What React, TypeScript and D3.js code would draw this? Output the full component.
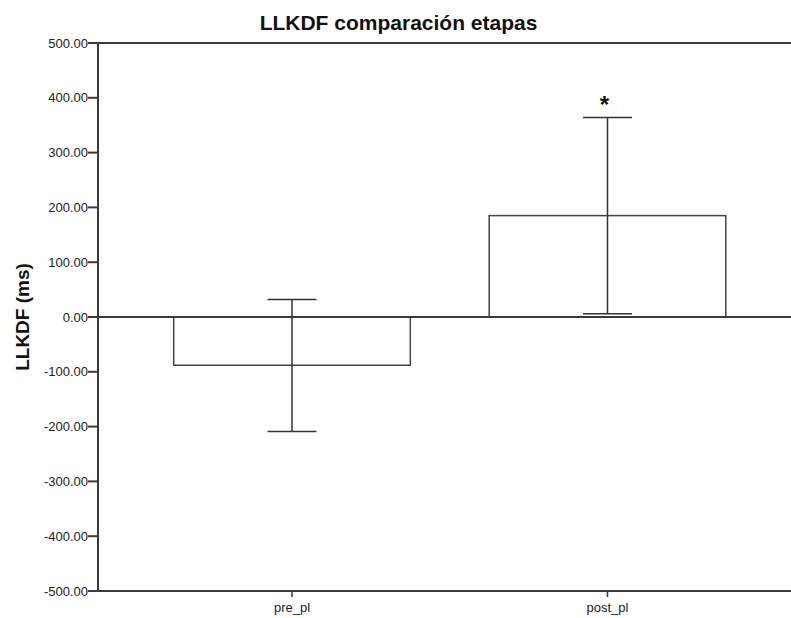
import React from "react";
import * as d3 from "d3";

const categories = ["pre_pl", "post_pl"];
const means = [-88, 185];
const errLow = [-209, 6];
const errHigh = [32, 364];
const significance = ["", "*"];
const yTicks = [500, 400, 300, 200, 100, 0, -100, -200, -300, -400, -500];

const W = 791;
const H = 618;
const left = 98;
const top = 43;
const bottom = 591;
const stroke = "#3a3a3a";

export default function App() {
  const y = d3.scaleLinear().domain([-500, 500]).range([bottom, top]);
  const x = d3
    .scaleBand<string>()
    .domain(categories)
    .range([left, 801.5])
    .paddingInner(0.25)
    .paddingOuter(0.24);
  const capW = 49;
  const font = "'Liberation Sans', Arial, sans-serif";
  return (
    <svg
      width={W}
      height={H}
      style={{ position: "absolute", left: 0, top: 0, background: "#fff" }}
      fontFamily={font}
    >
      <text x={398.5} y={30} textAnchor="middle" fontSize={21} fontWeight="bold" fill="#111">
        LLKDF comparación etapas
      </text>
      <text
        transform={`translate(29,${317}) rotate(-90)`}
        textAnchor="middle"
        fontSize={19}
        fontWeight="bold"
        fill="#111"
      >
        LLKDF (ms)
      </text>
      {/* bars */}
      {categories.map((c, i) => {
        const y0 = y(0);
        const yv = y(means[i]);
        return (
          <rect
            key={c}
            x={x(c)}
            y={Math.min(y0, yv)}
            width={x.bandwidth()}
            height={Math.abs(yv - y0)}
            fill="#fff"
            stroke="#444"
            strokeWidth={1.5}
          />
        );
      })}
      {/* frame lines */}
      <line x1={left} x2={W} y1={top} y2={top} stroke={stroke} strokeWidth={2} />
      <line x1={left} x2={W} y1={bottom} y2={bottom} stroke={stroke} strokeWidth={2} />
      <line x1={left} x2={W} y1={y(0)} y2={y(0)} stroke={stroke} strokeWidth={1.8} />
      <line x1={left} x2={left} y1={top} y2={bottom} stroke={stroke} strokeWidth={2} />
      {/* y ticks */}
      {yTicks.map((t) => (
        <g key={t}>
          <line x1={left - 10} x2={left} y1={y(t)} y2={y(t)} stroke={stroke} strokeWidth={2} />
          <text
            x={left - 10}
            y={y(t)}
            dy="0.35em"
            textAnchor="end"
            fontSize={13}
            fill="#222"
          >
            {t.toFixed(2)}
          </text>
        </g>
      ))}
      {/* x ticks */}
      {categories.map((c) => {
        const cx = (x(c) as number) + x.bandwidth() / 2;
        return (
          <g key={c}>
            <line x1={cx} x2={cx} y1={bottom} y2={bottom + 6} stroke={stroke} strokeWidth={1.5} />
            <text
              x={cx}
              y={bottom + 21}
              textAnchor="middle"
              fontSize={13}
              fontFamily="'Liberation Sans Narrow', 'Liberation Sans', sans-serif"
              fill="#222"
            >
              {c}
            </text>
          </g>
        );
      })}
      {/* error bars */}
      {categories.map((c, i) => {
        const cx = (x(c) as number) + x.bandwidth() / 2;
        return (
          <g key={c} stroke="#333" strokeWidth={1.5}>
            <line x1={cx} x2={cx} y1={y(errLow[i])} y2={y(errHigh[i])} />
            <line x1={cx - capW / 2} x2={cx + capW / 2} y1={y(errLow[i])} y2={y(errLow[i])} />
            <line x1={cx - capW / 2} x2={cx + capW / 2} y1={y(errHigh[i])} y2={y(errHigh[i])} />
            {significance[i] && (
              <text
                x={cx - 3}
                y={y(errHigh[i]) - 5}
                textAnchor="middle"
                fontSize={24}
                fontWeight="bold"
                fill="#111"
                stroke="none"
              >
                {significance[i]}
              </text>
            )}
          </g>
        );
      })}
    </svg>
  );
}
